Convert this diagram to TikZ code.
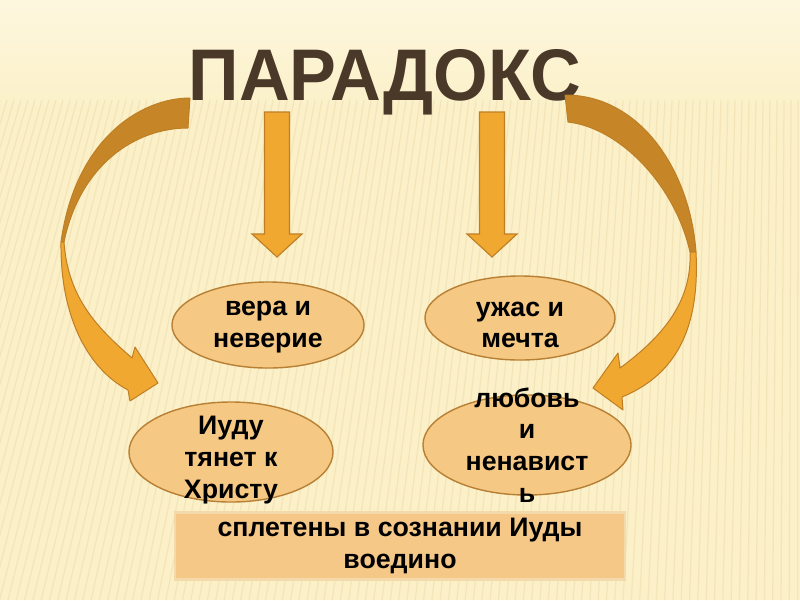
\documentclass[tikz,border=0pt]{standalone}
\usepackage{fontspec}
\setmainfont{Liberation Sans}
\usetikzlibrary{shapes.geometric}

\definecolor{bgcream}{RGB}{251,240,200}
\definecolor{bgtop}{RGB}{253,247,222}
\definecolor{stripe}{RGB}{236,220,170}
\definecolor{titlebrown}{RGB}{74,56,40}
\definecolor{arrowfill}{RGB}{240,168,48}
\definecolor{arrowdark}{RGB}{198,134,40}
\definecolor{arrowline}{RGB}{190,126,36}
\definecolor{ovalfill}{RGB}{245,200,132}
\definecolor{ovalline}{RGB}{184,128,52}
\definecolor{boxfill}{RGB}{246,200,136}
\definecolor{boxline}{RGB}{244,218,170}

\tikzset{
  oval/.style={ellipse, draw=ovalline, line width=1pt, fill=ovalfill, inner sep=0pt},
  ovaltext/.style={align=center, font=\bfseries\fontsize{19}{22.5}\selectfont},
  ribbon/.style={draw=arrowline, line width=0.7pt, line join=round},
  downarrow/.pic={
    \filldraw[fill=arrowfill, draw=arrowline, line width=0.8pt]
      (-12.5,-145) -- (12.5,-145) -- (12.5,-23) -- (25,-23) -- (0,0)
      -- (-25,-23) -- (-12.5,-23) -- cycle;
  },
}

\begin{document}
\begin{tikzpicture}[x=0.025cm, y=-0.025cm]
  \useasboundingbox (0,0) rectangle (800,600);
  % --- fond ---
  \begin{scope}
    \clip (0,0) rectangle (800,600);
    \fill[bgcream] (0,0) rectangle (800,600);
    \shade[top color=bgtop, bottom color=bgcream] (0,0) rectangle (800,110);
    \foreach \t in {0,7,...,800}{
      \pgfmathsetmacro{\b}{\t-150*(1-\t/800)}
      \draw[stripe, line width=0.9pt, opacity=0.5] (\t,100) -- (\b,600);
    }
  \end{scope}

  % --- titre ---
  \node[font=\bfseries\fontsize{52}{52}\selectfont, text=titlebrown, anchor=base]
    (title) at (385,100) {\scalebox{0.96}[1]{ПАРАДОКС}};

  % --- fleches droites ---
  \pic at (277,257) {downarrow};
  \pic at (492,257) {downarrow};

  % --- fleche courbe gauche ---
  \filldraw[ribbon, fill=arrowdark]
    (190,98) .. controls (140,98) and (75,140) .. (61,242)
    -- (64,242) .. controls (80,165) and (135,128) .. (188,128) -- cycle;
  \filldraw[ribbon, fill=arrowfill]
    (61,242) .. controls (60,320) and (90,370) .. (128,390)
    -- (130,401) -- (158,383) -- (135,347) -- (132,358)
    .. controls (100,330) and (68,300) .. (64,242) -- cycle;

  % --- fleche courbe droite ---
  \filldraw[ribbon, fill=arrowdark]
    (565,95) .. controls (640,95) and (690,170) .. (696,252)
    -- (690,252) .. controls (675,185) and (620,128) .. (568,122) -- cycle;
  \filldraw[ribbon, fill=arrowfill]
    (696,252) .. controls (700,330) and (675,375) .. (622,397)
    -- (623,410) -- (593,388) -- (618,353) -- (620,368)
    .. controls (665,335) and (692,300) .. (690,252) -- cycle;

  % --- ovales ---
  \node[oval, minimum width=4.8cm, minimum height=2.15cm] (vera) at (268,325) {};
  \node[oval, minimum width=4.75cm, minimum height=2.1cm] (uzhas) at (520,318) {};
  \node[oval, minimum width=5.1cm, minimum height=2.5cm] (iudu) at (231,452) {};
  \node[oval, minimum width=5.2cm, minimum height=2.5cm] (lubov) at (527,445) {};

  \node[ovaltext] (veratxt) at (268,327) {вера и\\неверие};
  \node[ovaltext] (uzhastxt) at (520,325) {ужас и\\мечта};
  \node[ovaltext] (iudutxt) at (231,460) {Иуду\\тянет к\\Христу};
  \node[ovaltext] (lubovtxt) at (lubov.center) {любовь\\и\\ненавист\\ь};

  % --- conclusion ---
  \node[fill=boxfill, draw=boxline, line width=1.5pt, minimum width=11.25cm,
    minimum height=1.675cm, align=center, ovaltext] (summary) at (400,546)
    {сплетены в сознании Иуды\\воедино};
\end{tikzpicture}
\end{document}
